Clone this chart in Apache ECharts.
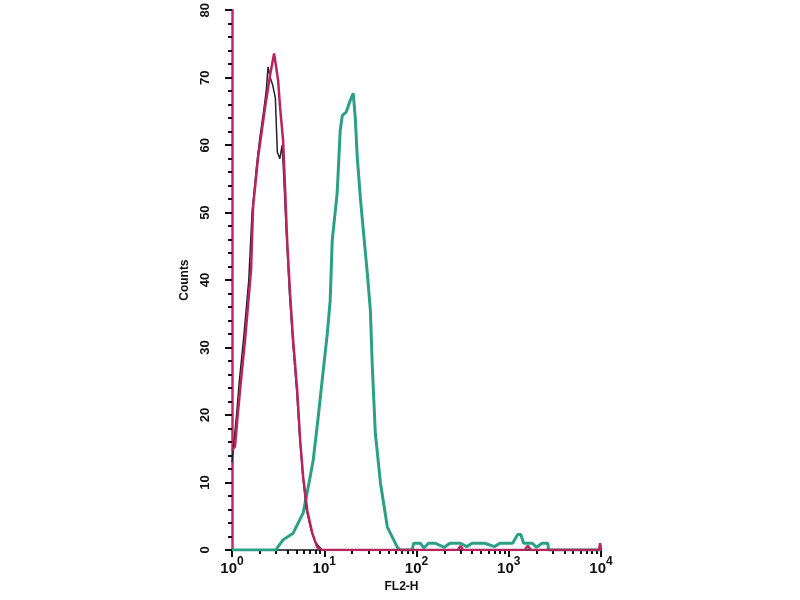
<!DOCTYPE html>
<html><head><meta charset="utf-8">
<script src="https://cdn.jsdelivr.net/npm/echarts@6/dist/echarts.min.js"></script>
<style>html,body{margin:0;padding:0;background:#fff}#c{width:800px;height:600px}</style>
</head><body><div id="c"></div>
<script>
// Data: [FL2-H value, counts]
const blackSeries = [[1.0,13],[1.05,16],[1.12,20],[1.2,25],[1.35,32],[1.52,40],[1.65,50],[1.85,57],[2.0,61],[2.2,65],[2.35,68],[2.46,71.6],[2.6,70],[2.75,69],[2.95,67],[3.1,59],[3.3,58],[3.5,60],[3.65,55],[3.85,48],[4.2,38],[4.55,31],[5.0,24],[5.4,17],[5.85,11],[6.4,6],[7.2,3],[8.0,1.2],[8.8,0.5],[9.5,0]];
const redSeries = [[1.0,14.8],[1.078,15.3],[1.133,18.8],[1.222,23.7],[1.385,31.1],[1.609,41.5],[1.692,50.8],[1.918,58.2],[2.283,65.6],[2.588,70.4],[2.86,73.6],[3.16,69.6],[3.32,65.6],[3.58,60.7],[3.77,53.3],[3.96,45.9],[4.27,37.8],[4.6,31.1],[5.09,23.7],[5.48,16.3],[5.91,10.8],[6.54,5.9],[7.41,2.5],[8.4,0.4],[9.5,0],[280,0],[300,0.6],[320,0],[1500,0],[1600,0.6],[1750,0],[9500,0],[9800,1],[10000,0]];
const greenSeries = [[1.0,0],[3.0,0],[3.09,0.3],[3.58,1.5],[4.6,2.5],[5.91,5.5],[6.7,9.3],[7.59,13.3],[8.6,19.7],[9.5,25.2],[10.8,32.1],[11.6,37],[12.2,45.9],[13.8,52.9],[14.9,62.2],[15.7,64.4],[17.3,64.9],[19.2,66.7],[20.6,67.7],[21.7,64],[22.8,58.2],[24.6,52.3],[26.5,47.4],[29.3,41],[31.6,35.6],[33.2,27.1],[35.8,17.3],[40.7,9.9],[48.3,3.4],[62.1,0.4],[66.8,0],[90,0],[93,1],[110,1],[120,0.3],[135,1],[160,1],[200,0.4],[230,1],[300,1],[350,0.5],[400,1],[550,1],[700,0.5],[800,1],[1100,1],[1250,2.3],[1350,2.3],[1450,1],[1800,1],[2000,0.4],[2300,1],[2650,1],[2700,0],[10000,0]];
const yTicks = [0,10,20,30,40,50,60,70,80];
const xDecades = [1,10,100,1000,10000];
const xMinorTicks = [];
xDecades.slice(0,4).forEach(d => { for (let k=2;k<=9;k++) xMinorTicks.push(d*k); });

const font = '"Liberation Sans", Arial, sans-serif';
const chart = echarts.init(document.getElementById('c'));
chart.setOption({
  animation:false,
  backgroundColor:'#fff',
  grid:{left:232,right:199,top:10,bottom:50,containLabel:false},
  xAxis:[{
    type:'log', logBase:10, min:1, max:10000,
    name:'FL2-H', nameLocation:'middle', nameGap:27,
    nameTextStyle:{fontFamily:font,fontWeight:'bold',fontSize:12,color:'#111',padding:[0,30,0,0]},
    axisLine:{lineStyle:{color:'#111',width:1.5}},
    axisTick:{inside:false,length:7,lineStyle:{color:'#111',width:2}},
    splitLine:{show:false},
    axisLabel:{margin:6,color:'#111',
      formatter:v => '{b|10}{e|' + Math.round(Math.log10(v)) + '}',
      rich:{b:{fontFamily:font,fontSize:15,fontWeight:'bold',color:'#111',lineHeight:20,verticalAlign:'bottom'},
            e:{fontFamily:font,fontSize:12,fontWeight:'bold',color:'#111',lineHeight:12,verticalAlign:'top'}}}
  },{
    type:'log', logBase:10, min:1, max:10000, position:'bottom',
    axisLine:{show:false}, axisLabel:{show:false}, splitLine:{show:false},
    axisTick:{show:true,inside:false,length:4,customValues:xMinorTicks,lineStyle:{color:'#111',width:2}}
  }],
  yAxis:{
    type:'value', min:0, max:80, interval:10,
    name:'Counts', nameLocation:'middle', nameGap:41,
    nameTextStyle:{fontFamily:font,fontWeight:'bold',fontSize:12,color:'#111'},
    axisLine:{show:true,lineStyle:{color:'#c3286a',width:2.5}},
    axisTick:{show:true,inside:false,length:7,lineStyle:{color:'#111',width:2}},
    minorTick:{show:true,splitNumber:5,length:4,lineStyle:{color:'#111',width:2}},
    splitLine:{show:false},
    axisLabel:{rotate:90,margin:20,fontFamily:font,fontSize:13,fontWeight:'bold',color:'#111',
      formatter:v => yTicks.indexOf(v) >= 0 ? String(v) : ''}
  },
  series:[
    {type:'line',data:greenSeries,showSymbol:false,symbol:'none',lineStyle:{color:'#2ba084',width:3},z:2},
    {type:'line',data:blackSeries,showSymbol:false,symbol:'none',lineStyle:{color:'#222',width:1.5},z:3},
    {type:'line',data:redSeries,showSymbol:false,symbol:'none',lineStyle:{color:'#b8245e',width:2.5},z:4}
  ]
});
</script></body></html>
